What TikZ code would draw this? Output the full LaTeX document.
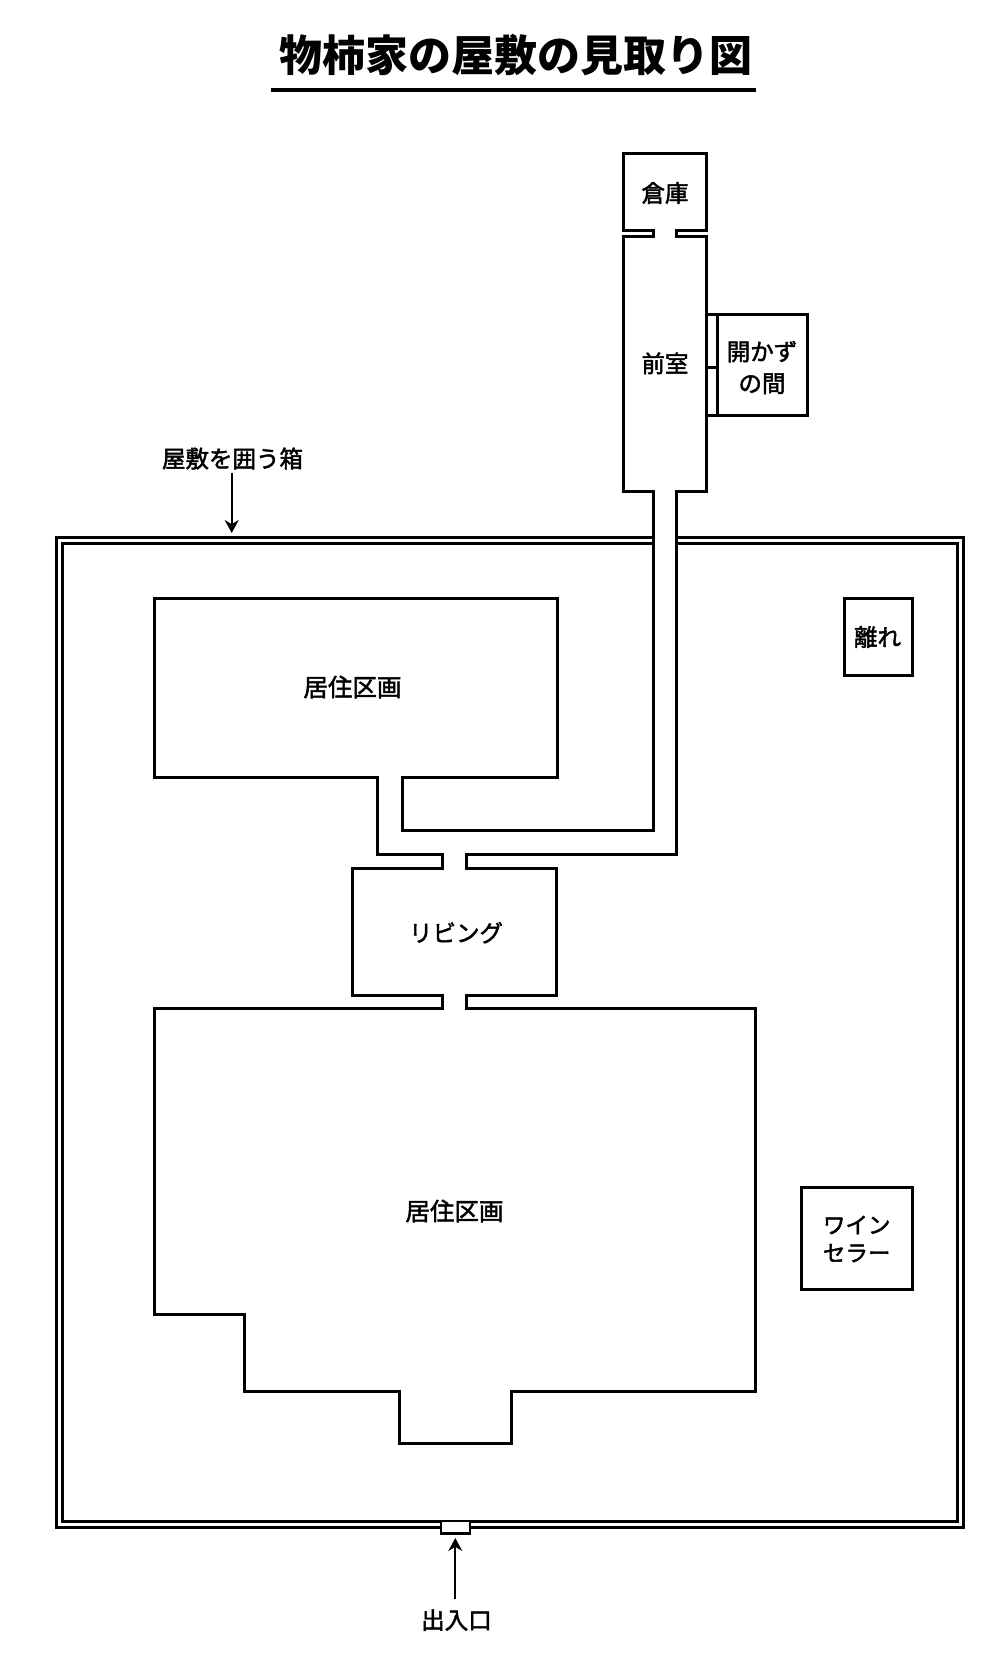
\documentclass[tikz,border=0pt]{standalone}
\usepackage{fontspec}
\usetikzlibrary{arrows.meta}
\newfontfamily\jpfont{Noto Sans CJK JP}
\newfontfamily\jplabelfont[FakeBold=2]{Noto Sans CJK JP}
\tikzset{
    wall/.style={line width=3pt, miter limit=10},
    roomlabel/.style={font=\jplabelfont\fontsize{23.5}{28}\selectfont, align=center, inner sep=0pt},
    pointer/.style={line width=2pt, -{Stealth[length=13pt,width=14pt]}}
}

\begin{document}
\begin{tikzpicture}[x=1pt, y=-1pt]
    \useasboundingbox (0,0) rectangle (1001,1666);

    \node[font=\jpfont\bfseries\fontsize{43}{50}\selectfont, inner sep=0pt] (title) at (515.5,55.5) {物柿家の屋敷の見取り図};
    \draw[line width=4pt] (271,90) -- (756,90);

    % the box round the grounds, open where the passage goes through
    \draw[line width=3pt] (653.3,537) -- (56.7,537) -- (56.7,1527) -- (963.3,1527) -- (963.3,537) -- (676.7,537);
    \draw[line width=3pt] (653.3,543) -- (62.7,543) -- (62.7,1521) -- (957.3,1521) -- (957.3,543) -- (676.7,543);
    \draw[line width=2.6pt, fill=white] (441,1521) rectangle (470,1533.3);

    % store, anteroom, passage, then the rooms round to the start
    \draw[wall] (653.3,236.7) -- (653.3,230.7) -- (623.3,230.7) -- (623.3,153.3) -- (706.7,153.3) -- (706.7,230.7)
        -- (676.7,230.7) -- (676.7,236.7) -- (706.7,236.7) -- (706.7,491.7) -- (676.7,491.7) -- (676.7,854.3)
        -- (466.7,854.3) -- (466.7,868.3) -- (556.7,868.3) -- (556.7,995) -- (466.7,995) -- (466.7,1008.3)
        -- (755.3,1008.3) -- (755.3,1391.5) -- (511.6,1391.5) -- (511.6,1443) -- (399.9,1443) -- (399.9,1391.5)
        -- (244,1391.5) -- (244,1314) -- (154.3,1314) -- (154.3,1008.3) -- (442.7,1008.3) -- (442.7,995)
        -- (352.2,995) -- (352.2,868.3) -- (442.7,868.3) -- (442.7,854.3) -- (377.5,854.3) -- (377.5,777.3)
        -- (154.3,777.3) -- (154.3,598.3) -- (557.2,598.3) -- (557.2,777.3) -- (402,777.3) -- (402,830)
        -- (653.3,830) -- (653.3,491.7) -- (623.3,491.7) -- (623.3,236.7) -- cycle;

    \draw[wall] (717.3,314) rectangle (807.3,415);
    \draw[wall] (706.7,314) -- (717.3,314);
    \draw[wall] (706.7,367.7) -- (717.3,367.7);
    \draw[wall] (706.7,415) -- (717.3,415);
    \draw[wall] (844,598) rectangle (912,675.3);
    \draw[wall] (801,1187.7) rectangle (912.3,1289);

    \node[roomlabel] (souko) at (665,193) {倉庫};
    \node[roomlabel] (zenshitsu) at (665,363.3) {前室};
    \node[roomlabel, font=\jplabelfont\fontsize{23.5}{31.7}\selectfont] (akazu) at (762,367.5) {開かず\\の間};
    \node[roomlabel] (hanare) at (877.5,637) {離れ};
    \node[roomlabel, font=\jplabelfont\fontsize{24.5}{28}\selectfont] (kyojuA) at (352.5,687) {居住区画};
    \node[roomlabel] (living) at (456,932.7) {リビング};
    \node[roomlabel, font=\jplabelfont\fontsize{24.5}{28}\selectfont] (kyojuB) at (454.5,1211) {居住区画};
    \node[roomlabel, font=\jplabelfont\fontsize{22.5}{28}\selectfont] (wine) at (856.7,1239) {ワイン\\セラー};

    \node[roomlabel] (hakolabel) at (232.5,458.5) {屋敷を囲う箱};
    \coordinate (hakotip) at (231.7,533);
    \draw[pointer] (hakolabel.south -| hakotip) ++(0,3) -- (hakotip);

    \node[roomlabel] (deiriguchi) at (456.5,1620) {出入口};
    \coordinate (doortip) at (455.3,1538);
    \draw[pointer] (deiriguchi.north -| doortip) ++(0,-10) -- (doortip);
\end{tikzpicture}
\end{document}
